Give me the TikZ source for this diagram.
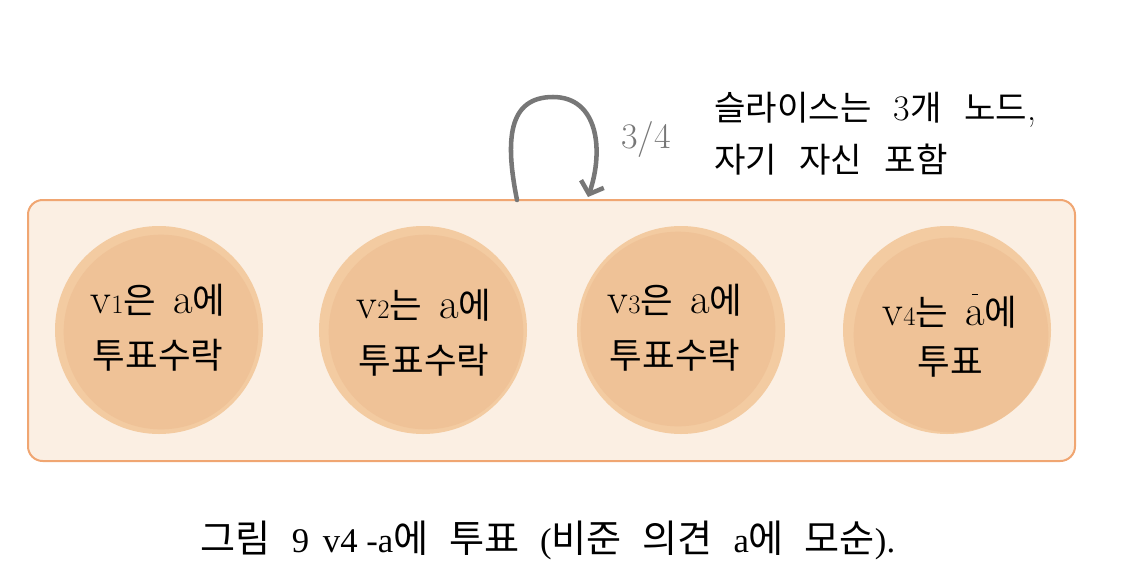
\documentclass[tikz,border=0pt]{standalone}
\usepackage{fontspec}
\newfontfamily\ko[Scale=0.95]{Noto Sans CJK KR}
\newfontfamily\kob[Scale=1.1]{Noto Sans CJK KR}
\newfontfamily\tnr{Liberation Serif}
\usetikzlibrary{arrows.meta}
\definecolor{boxfill}{HTML}{FBEFE3}
\definecolor{boxline}{HTML}{F0A672}
\definecolor{cout}{HTML}{F3CBA1}
\definecolor{cin}{HTML}{EFC297}
\definecolor{loopgray}{HTML}{777777}
\newcommand\gap{\hspace{0.62em}}
\newcommand\cgap{\hspace{0.45em}}
\newcommand\pgap{\hspace{0.6em}}
\newcommand\biglat[1]{{\fontsize{32}{32}\selectfont #1}}
\newcommand\smalldigit[1]{{\fontsize{20}{20}\selectfont #1}}
\newcommand\abar{{\fontsize{32}{32}\selectfont\ooalign{a\cr\hidewidth\raisebox{0.72em}{\rule{4.5pt}{0.7pt}}\hidewidth\cr}}}
\begin{document}
\begin{tikzpicture}[x=0.75pt,y=-0.75pt,
  slicebox/.style={draw=boxline, line width=1.5pt, fill=boxfill, rounded corners=11pt,
    minimum width=785.25pt, minimum height=195.75pt, inner sep=0pt},
  vout/.style={circle, fill=cout, minimum size=156pt, inner sep=0pt},
  vin/.style={circle, fill=cin, minimum size=146pt, inner sep=0pt},
  vtxt/.style={align=center, font=\fontsize{28}{41}\selectfont, inner sep=0pt},
  looparrow/.style={draw=loopgray, line width=3.4pt, line cap=round,
    -{Straight Barb[length=8pt,width=18pt,line width=3.4pt]}},
  note/.style={align=left, anchor=west, font=\fontsize{27}{39}\selectfont, inner sep=0pt},
  caption/.style={font=\tnr\fontsize{26}{30}\selectfont, inner sep=0pt}]
\useasboundingbox (0,0) rectangle (1142,586);

% slice box
\node[slicebox] (slice) at (551.5,330.5) {};

% nodes
\node[vout] (v1) at (159,330) {};
\node[vin] (v1i) at (161,332) {};
\node[vout] (v2) at (423,330) {};
\node[vin] (v2i) at (426,332) {};
\node[vout] (v3) at (681,330) {};
\node[vin] (v3i) at (678,329) {};
\node[vout] (v4) at (947,330) {};
\node[vin] (v4i) at (951,335) {};

\node[vtxt] (t1) at (158,328) {\biglat{v}\smalldigit{1}{\ko 은}\cgap\biglat{a}{\ko 에}\\{\ko 투표수락}};
\node[vtxt] (t2) at (424,333) {\biglat{v}\smalldigit{2}{\ko 는}\cgap\biglat{a}{\ko 에}\\{\ko 투표수락}};
\node[vtxt] (t3) at (675,328) {\biglat{v}\smalldigit{3}{\ko 은}\cgap\biglat{a}{\ko 에}\\{\ko 투표수락}};
\node[vtxt, font=\fontsize{28}{37}\selectfont] (t4) at (950,337) {\biglat{v}\smalldigit{4}{\ko 는}\cgap\abar{\ko 에}\\{\ko 투표}};

% self loop
\coordinate (loopA) at (517,200);
\coordinate (loopB) at (588,197);
\draw[looparrow] (loopA) .. controls (505,140) and (508,97) .. (553,97)
  .. controls (598,97) and (604,150) .. (loopB);
\node[text=loopgray, font=\fontsize{27}{27}\selectfont, inner sep=0pt] (frac) at (646,139) {3/4};

% note
\node[note] (note) at (714,134) {{\ko 슬라이스는}\gap 3{\ko 개}\gap{\ko 노드},\\{\ko 자기}\gap{\ko 자신}\gap{\ko 포함}};

% caption
\node[caption] (cap) at (548,540) {{\kob 그림}\pgap 9\hspace{0.4em}v4 -a{\kob 에}\pgap{\kob 투표}\pgap({\kob 비준}\pgap{\kob 의견}\pgap a{\kob 에}\pgap{\kob 모순}).};
\end{tikzpicture}
\end{document}
